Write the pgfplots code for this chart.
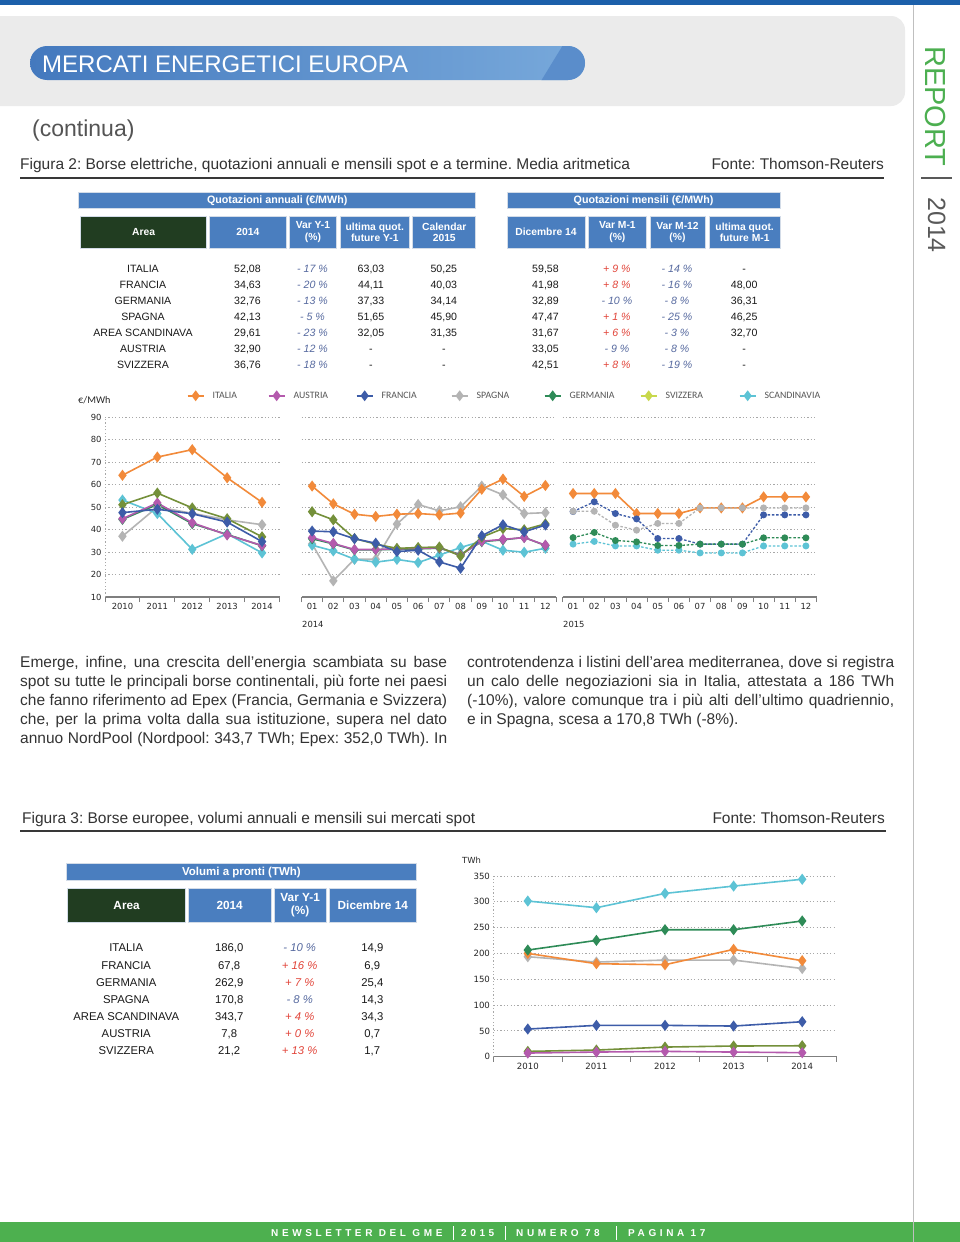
\documentclass[border=0pt]{standalone}
\usepackage{fontspec}
\usepackage{pgfplots}
\pgfplotsset{compat=1.18}
\setmainfont{Liberation Sans}
\newfontfamily\nar{Liberation Sans}
\newfontfamily\chf{DejaVu Sans}
\newfontfamily\calfont{Carlito}
\frenchspacing

\definecolor{cIta}{HTML}{F28A3A}
\definecolor{cAus}{HTML}{B45AAD}
\definecolor{cFra}{HTML}{3D5CA8}
\definecolor{cSpa}{HTML}{B4B4B4}
\definecolor{cGer}{HTML}{2E8B57}
\definecolor{cSvi}{HTML}{74903A}
\definecolor{cSviL}{HTML}{C8D84C}
\definecolor{cSca}{HTML}{5DC3D5}
\definecolor{gridc}{HTML}{A8A8A8}
\definecolor{axc}{HTML}{7F7F7F}
\definecolor{tickc}{HTML}{262626}
\definecolor{legc}{HTML}{555555}
\definecolor{hdrBlue}{HTML}{4A7EBF}
\definecolor{hdrGreen}{HTML}{213D21}
\definecolor{hdrLine}{HTML}{D3DCE8}
\definecolor{negC}{HTML}{56699F}
\definecolor{posC}{HTML}{E2453A}
\definecolor{footGreen}{HTML}{4DB04F}
\definecolor{repGreen}{HTML}{4CAF50}
\definecolor{topBlue}{HTML}{1C60AA}
\definecolor{boxGray}{HTML}{EBEBEB}
\definecolor{pillL}{HTML}{4479BE}
\definecolor{pillR}{HTML}{78A9DB}
\definecolor{pillD}{HTML}{5A8DCB}
\definecolor{txt}{HTML}{333333}

\pgfplotsset{
  base/.style={
    scale only axis, height=180pt, ymin=10, ymax=90,
    ytick={10,20,...,90},
    ymajorgrids,
    grid style={gridc, line width=0.8pt, dash pattern=on 1.2pt off 2.2pt},
    axis x line*=bottom, axis y line*=left,
    x axis line style={-, draw=axc, line width=1.1pt},
    major tick length=0pt,
    minor tick length=5pt, tick align=outside,
    minor x tick style={draw=axc, line width=1pt},
    ytick style={draw=none},
    xticklabel style={font=\chf\fontsize{8.4}{10}\selectfont, text=tickc, yshift=-3pt},
    yticklabel style={font=\chf\fontsize{8.4}{10}\selectfont, text=tickc},
    /pgf/number format/assume math mode=true,
    clip=false,
  },
  ser/.style={color=#1, line width=1.6pt, mark=diamond*, mark size=4.3pt, mark options={solid, fill=#1, draw=#1}, forget plot},
  ser2/.style={color=#1, line width=1.3pt, dash pattern=on 2.5pt off 1.8pt, mark=*, mark size=2.8pt, mark options={solid, fill=#1, draw=#1}, forget plot},
}

\newcommand\ta[3]{\node[anchor=base, inner sep=0pt, text=black!90, font=\fontsize{10.6}{12}\selectfont] at (#1pt,-#2pt) {#3};}
\newcommand\tb[3]{\node[anchor=base, inner sep=0pt, text=black!90, font=\fontsize{11.3}{13}\selectfont] at (#1pt,-#2pt) {#3};}
\newcommand\nv[1]{\textcolor{negC}{\itshape #1}}
\newcommand\pv[1]{\textcolor{posC}{\itshape #1}}
\newcommand\rowL[6]{\ta{143}{#1}{#2}\ta{247.5}{#1}{#3}\ta{312.5}{#1}{#4}\ta{371}{#1}{#5}\ta{443.8}{#1}{#6}}
\newcommand\rowR[5]{\ta{545.5}{#1}{#2}\ta{616.9}{#1}{#3}\ta{677}{#1}{#4}\ta{744.2}{#1}{#5}}
\newcommand\rowB[5]{\tb{126.2}{#1}{#2}\tb{229.2}{#1}{#3}\tb{299.7}{#1}{#4}\tb{372.3}{#1}{#5}}
\newcommand\hc[7]{\node[fill=#5, draw=hdrLine, line width=0.9pt, minimum width=#3pt, minimum height=#4pt, anchor=north west, inner sep=0pt, align=center, text=white, font=\bfseries\fontsize{#6}{#6}\selectfont] at (#1pt,-#2pt) {#7};}
\newcommand\jl[1]{\makebox[427pt][s]{#1}\\}

\begin{document}
\begin{tikzpicture}
\useasboundingbox (0pt,0pt) rectangle (960pt,-1242pt);
\clip (0pt,0pt) rectangle (960pt,-1242pt);
\fill[white] (0pt,0pt) rectangle (960pt,-1242pt);

% ---------- page header ----------
\fill[boxGray, rounded corners=14pt] (-30pt,-16pt) rectangle (905pt,-106pt);
\fill[topBlue] (0pt,0pt) rectangle (960pt,-5pt);
\shade[left color=pillL, right color=pillR, rounded corners=17pt] (30pt,-46pt) rectangle (585pt,-80pt);
\begin{scope}
\clip[rounded corners=17pt] (30pt,-46pt) rectangle (585pt,-80pt);
\fill[pillD] (541pt,-81pt) -- (563pt,-45pt) -- (590pt,-45pt) -- (590pt,-81pt) -- cycle;
\end{scope}
\node[anchor=base west, inner sep=0pt, text=white, font=\fontsize{24}{24}\selectfont] at (42pt,-72pt) {MERCATI ENERGETICI EUROPA};
\node[anchor=base west, inner sep=0pt, text=black!67, font=\fontsize{23}{23}\selectfont] at (32pt,-136pt) {(continua)};

% ---------- sidebar ----------
\draw[black!25, line width=0.8pt] (913pt,-5pt) -- (913pt,-1242pt);
\node[rotate=-90, anchor=base west, inner sep=0pt, text=repGreen, font=\fontsize{29}{29}\selectfont] at (925pt,-46pt) {REPORT};
\draw[line width=2pt, black!65] (921pt,-178pt) -- (952pt,-178pt);
\node[rotate=-90, anchor=base west, inner sep=0pt, text=black!65, font=\fontsize{25}{25}\selectfont] at (928pt,-197pt) {2014};

% ---------- Figure 2 caption ----------
\node[anchor=base west, inner sep=0pt, text=txt, font=\nar\fontsize{15.5}{18}\selectfont] at (20pt,-169pt) {Figura 2: Borse elettriche, quotazioni annuali e mensili spot e a termine. Media aritmetica};
\node[anchor=base east, inner sep=0pt, text=txt, font=\nar\fontsize{15.5}{18}\selectfont] at (884pt,-169pt) {Fonte: Thomson-Reuters};
\draw[line width=2pt, black!78] (20pt,-178pt) -- (884pt,-178pt);

% ---------- Table 1 ----------
\hc{78.3}{192.3}{396.9}{16}{hdrBlue}{10.7}{Quotazioni annuali (€/MWh)}
\hc{506.5}{192.3}{273.2}{16}{hdrBlue}{10.7}{Quotazioni mensili (€/MWh)}
\hc{80.2}{215.7}{125.9}{32}{hdrGreen}{10.3}{Area}
\hc{209.4}{215.7}{76.1}{32}{hdrBlue}{10.3}{2014}
\hc{288.7}{215.7}{47.6}{32}{hdrBlue}{10.3}{Var Y-1\\[1pt](\%)}
\hc{339.5}{215.7}{69.7}{32}{hdrBlue}{10.3}{ultima quot.\\[1pt]future Y-1}
\hc{412.4}{215.7}{62.8}{32}{hdrBlue}{10.3}{Calendar\\[1pt]2015}
\hc{506.5}{215.7}{78}{32}{hdrBlue}{10.3}{Dicembre 14}
\hc{587.8}{215.7}{58.2}{32}{hdrBlue}{10.3}{Var M-1\\[1pt](\%)}
\hc{649.6}{215.7}{54.9}{32}{hdrBlue}{10.3}{Var M-12\\[1pt](\%)}
\hc{708.7}{215.7}{71}{32}{hdrBlue}{10.3}{ultima quot.\\[1pt]future M-1}

\rowL{272}{ITALIA}{52,08}{\nv{- 17 \%}}{63,03}{50,25}
\rowL{288}{FRANCIA}{34,63}{\nv{- 20 \%}}{44,11}{40,03}
\rowL{304}{GERMANIA}{32,76}{\nv{- 13 \%}}{37,33}{34,14}
\rowL{320}{SPAGNA}{42,13}{\nv{- 5 \%}}{51,65}{45,90}
\rowL{336}{AREA SCANDINAVA}{29,61}{\nv{- 23 \%}}{32,05}{31,35}
\rowL{352}{AUSTRIA}{32,90}{\nv{- 12 \%}}{-}{-}
\rowL{368}{SVIZZERA}{36,76}{\nv{- 18 \%}}{-}{-}
\rowR{272}{59,58}{\pv{+ 9 \%}}{\nv{- 14 \%}}{-}
\rowR{288}{41,98}{\pv{+ 8 \%}}{\nv{- 16 \%}}{48,00}
\rowR{304}{32,89}{\nv{- 10 \%}}{\nv{- 8 \%}}{36,31}
\rowR{320}{47,47}{\pv{+ 1 \%}}{\nv{- 25 \%}}{46,25}
\rowR{336}{31,67}{\pv{+ 6 \%}}{\nv{- 3 \%}}{32,70}
\rowR{352}{33,05}{\nv{- 9 \%}}{\nv{- 8 \%}}{-}
\rowR{368}{42,51}{\pv{+ 8 \%}}{\nv{- 19 \%}}{-}

% ---------- Chart 1 ----------
\node[anchor=base west, inner sep=0pt, text=tickc, font=\calfont\fontsize{10.2}{11}\selectfont] at (78pt,-403pt) {€/MWh};

\begin{axis}[base, at={(105pt,-597pt)}, anchor=south west, width=174.5pt,
  xmin=-0.5, xmax=4.5, xtick={0,...,4}, xticklabels={2010,2011,2012,2013,2014},
  minor xtick={-0.5,0.5,...,4.5},
  y axis line style={-, draw=gridc, line width=0.8pt, dash pattern=on 1.2pt off 2.2pt},
  legend columns=7,
  legend style={at={(0.468,1.118)}, anchor=west, draw=none, fill=none, inner sep=0pt, outer sep=0pt,
    nodes={inner sep=0pt, outer sep=0pt, font=\calfont\fontsize{9.8}{11}\selectfont, text=legc},
    /tikz/every even column/.style={column sep=0pt}, /tikz/every odd column/.style={column sep=0pt}},
  legend image code/.code={\draw[mark repeat=2,mark phase=2,#1] plot coordinates {(0pt,0pt) (8pt,0pt) (16pt,0pt)};},
]
\addplot[ser=cSpa] coordinates {(0,37.0) (1,50.0) (2,47.2) (3,44.3) (4,42.13)};
\addplot[ser=cSca] coordinates {(0,53.1) (1,47.1) (2,31.2) (3,38.1) (4,29.61)};
\addplot[ser=cGer] coordinates {(0,44.5) (1,51.1) (2,42.6) (3,37.8) (4,32.76)};
\addplot[ser=cAus] coordinates {(0,44.8) (1,51.8) (2,43.0) (3,37.6) (4,32.90)};
\addplot[ser=cSvi] coordinates {(0,51.0) (1,56.2) (2,49.6) (3,44.8) (4,36.76)};
\addplot[ser=cFra] coordinates {(0,47.5) (1,49.0) (2,47.0) (3,43.3) (4,34.63)};
\addplot[ser=cIta] coordinates {(0,64.1) (1,72.2) (2,75.5) (3,63.0) (4,52.08)};
\addlegendimage{color=cIta, line width=2pt, mark=diamond*, mark size=3.8pt, mark options={fill=cIta}}
\addlegendentry{\makebox[63pt][l]{\hspace{8pt}ITALIA}}
\addlegendimage{color=cAus, line width=2pt, mark=diamond*, mark size=3.8pt, mark options={fill=cAus}}
\addlegendentry{\makebox[70pt][l]{\hspace{8pt}AUSTRIA}}
\addlegendimage{color=cFra, line width=2pt, mark=diamond*, mark size=3.8pt, mark options={fill=cFra}}
\addlegendentry{\makebox[77pt][l]{\hspace{8pt}FRANCIA}}
\addlegendimage{color=cSpa, line width=2pt, mark=diamond*, mark size=3.8pt, mark options={fill=cSpa}}
\addlegendentry{\makebox[75pt][l]{\hspace{8pt}SPAGNA}}
\addlegendimage{color=cGer, line width=2pt, mark=diamond*, mark size=3.8pt, mark options={fill=cGer}}
\addlegendentry{\makebox[78pt][l]{\hspace{8pt}GERMANIA}}
\addlegendimage{color=cSviL, line width=2pt, mark=diamond*, mark size=3.8pt, mark options={fill=cSviL}}
\addlegendentry{\makebox[81pt][l]{\hspace{8pt}SVIZZERA}}
\addlegendimage{color=cSca, line width=2pt, mark=diamond*, mark size=3.8pt, mark options={fill=cSca}}
\addlegendentry{\makebox[62pt][l]{\hspace{8pt}SCANDINAVIA}}
\end{axis}

\begin{axis}[base, at={(301.5pt,-597pt)}, anchor=south west, width=254.5pt,
  xmin=-0.5, xmax=11.5, xtick={0,...,11}, xticklabels={01,02,03,04,05,06,07,08,09,10,11,12},
  minor xtick={-0.5,0.5,...,11.5},
  y axis line style={draw=none}, yticklabels={}]
\addplot[ser=cSpa] coordinates {(0,33.6) (1,17.2) (2,26.8) (3,26.8) (4,42.4) (5,51.1) (6,48.3) (7,50.1) (8,59.3) (9,55.4) (10,47.1) (11,47.47)};
\addplot[ser=cSca] coordinates {(0,33.0) (1,30.5) (2,26.8) (3,25.5) (4,26.7) (5,25.3) (6,28.6) (7,32.0) (8,34.8) (9,30.8) (10,29.9) (11,31.67)};
\addplot[ser=cGer] coordinates {(0,35.9) (1,33.6) (2,30.9) (3,31.0) (4,31.2) (5,31.4) (6,31.7) (7,28.9) (8,34.6) (9,35.4) (10,36.5) (11,32.89)};
\addplot[ser=cAus] coordinates {(0,36.4) (1,33.8) (2,31.1) (3,31.1) (4,31.4) (5,31.6) (6,31.9) (7,28.6) (8,34.8) (9,35.6) (10,36.4) (11,33.05)};
\addplot[ser=cSvi] coordinates {(0,47.9) (1,44.3) (2,36.0) (3,33.5) (4,31.6) (5,32.0) (6,32.2) (7,28.2) (8,36.6) (9,40.4) (10,39.9) (11,42.51)};
\addplot[ser=cFra] coordinates {(0,39.3) (1,39.0) (2,35.9) (3,33.9) (4,30.2) (5,30.8) (6,25.6) (7,22.8) (8,37.2) (9,42.1) (10,39.0) (11,41.98)};
\addplot[ser=cIta] coordinates {(0,59.3) (1,51.4) (2,46.8) (3,45.8) (4,46.8) (5,47.1) (6,46.5) (7,47.3) (8,57.9) (9,62.4) (10,54.7) (11,59.58)};
\end{axis}

\begin{axis}[base, at={(562.5pt,-597pt)}, anchor=south west, width=254pt,
  xmin=-0.5, xmax=11.5, xtick={0,...,11}, xticklabels={01,02,03,04,05,06,07,08,09,10,11,12},
  minor xtick={-0.5,0.5,...,11.5},
  y axis line style={draw=none}, yticklabels={}]
\addplot[ser=cIta] coordinates {(0,56.0) (1,56.0) (2,56.0) (3,47.1) (4,47.1) (5,47.1) (6,49.6) (7,49.6) (8,49.6) (9,54.5) (10,54.5) (11,54.5)};
\addplot[ser2=cFra] coordinates {(0,48.0) (1,52.3) (2,47.1) (3,44.7) (4,36.0) (5,36.0) (6,33.5) (7,33.5) (8,33.5) (9,46.5) (10,46.5) (11,46.5)};
\addplot[ser2=cSpa] coordinates {(0,48.1) (1,48.1) (2,41.9) (3,39.7) (4,42.7) (5,42.7) (6,49.6) (7,49.6) (8,49.6) (9,49.6) (10,49.6) (11,49.6)};
\addplot[ser2=cSca] coordinates {(0,33.5) (1,34.7) (2,32.7) (3,32.7) (4,30.8) (5,30.8) (6,29.6) (7,29.6) (8,29.6) (9,32.7) (10,32.7) (11,32.7)};
\addplot[ser2=cGer] coordinates {(0,36.4) (1,38.7) (2,35.1) (3,34.5) (4,32.9) (5,32.9) (6,33.5) (7,33.5) (8,33.5) (9,36.3) (10,36.3) (11,36.3)};
\end{axis}
\node[anchor=west, inner sep=0pt, text=tickc, font=\chf\fontsize{8.4}{10}\selectfont] at (302pt,-624pt) {2014};
\node[anchor=west, inner sep=0pt, text=tickc, font=\chf\fontsize{8.4}{10}\selectfont] at (563pt,-624pt) {2015};

% ---------- paragraphs ----------
\node[anchor=base west, inner sep=0pt, text=txt] at (20pt,-667pt) {\parbox[t]{427pt}{\nar\fontsize{15.5}{19}\selectfont%
\jl{Emerge, infine, una crescita dell’energia scambiata su base}%
\jl{spot su tutte le principali borse continentali, più forte nei paesi}%
\jl{che fanno riferimento ad Epex (Francia, Germania e Svizzera)}%
\jl{che, per la prima volta dalla sua istituzione, supera nel dato}%
\makebox[427pt][s]{annuo NordPool (Nordpool: 343,7 TWh; Epex: 352,0 TWh). In}}};
\node[anchor=base west, inner sep=0pt, text=txt] at (467pt,-667pt) {\parbox[t]{427pt}{\nar\fontsize{15.5}{19}\selectfont%
\jl{controtendenza i listini dell’area mediterranea, dove si registra}%
\jl{un calo delle negoziazioni sia in Italia, attestata a 186 TWh}%
\jl{(-10\%), valore comunque tra i più alti dell’ultimo quadriennio,}%
e in Spagna, scesa a 170,8 TWh (-8\%).}};

% ---------- Figure 3 caption ----------
\node[anchor=base west, inner sep=0pt, text=txt, font=\nar\fontsize{15.5}{18}\selectfont] at (22pt,-823pt) {Figura 3: Borse europee, volumi annuali e mensili sui mercati spot};
\node[anchor=base east, inner sep=0pt, text=txt, font=\nar\fontsize{15.5}{18}\selectfont] at (885pt,-823pt) {Fonte: Thomson-Reuters};
\draw[line width=2pt, black!78] (20pt,-831pt) -- (886pt,-831pt);

% ---------- Table 2 ----------
\hc{66}{863.3}{350}{16.7}{hdrBlue}{11.5}{Volumi a pronti (TWh)}
\hc{67.3}{887.7}{117.7}{34.6}{hdrGreen}{11.8}{Area}
\hc{187.7}{887.7}{83}{34.6}{hdrBlue}{11.8}{2014}
\hc{273.7}{887.7}{52}{34.6}{hdrBlue}{11.8}{Var Y-1\\[1pt](\%)}
\hc{328.7}{887.7}{87.3}{34.6}{hdrBlue}{11.8}{Dicembre 14}
\rowB{951.7}{ITALIA}{186,0}{\nv{- 10 \%}}{14,9}
\rowB{969}{FRANCIA}{67,8}{\pv{+ 16 \%}}{6,9}
\rowB{986}{GERMANIA}{262,9}{\pv{+ 7 \%}}{25,4}
\rowB{1003.3}{SPAGNA}{170,8}{\nv{- 8 \%}}{14,3}
\rowB{1020.3}{AREA SCANDINAVA}{343,7}{\pv{+ 4 \%}}{34,3}
\rowB{1037.7}{AUSTRIA}{7,8}{\pv{+ 0 \%}}{0,7}
\rowB{1054.7}{SVIZZERA}{21,2}{\pv{+ 13 \%}}{1,7}

% ---------- Chart 2 ----------
\node[anchor=west, inner sep=0pt, text=tickc, font=\chf\fontsize{8.4}{10}\selectfont] at (462pt,-860pt) {TWh};
\begin{axis}[base, at={(493.5pt,-1056.7pt)}, anchor=south west, width=343pt, height=180.7pt,
  ymin=0, ymax=350, ytick={0,50,...,350},
  xmin=-0.5, xmax=4.5, xtick={0,...,4}, xticklabels={2010,2011,2012,2013,2014},
  minor xtick={-0.5,0.5,...,4.5},
  y axis line style={-, draw=gridc, line width=0.8pt, dash pattern=on 1.2pt off 2.2pt},
  xticklabel style={font=\chf\fontsize{8.6}{10}\selectfont},
  yticklabel style={font=\chf\fontsize{8.6}{10}\selectfont}]
\addplot[ser=cSpa] coordinates {(0,193.7) (1,183.3) (2,187.2) (3,187.2) (4,170.8)};
\addplot[ser=cIta] coordinates {(0,200.1) (1,180.1) (2,178.2) (3,207.9) (4,186.0)};
\addplot[ser=cSca] coordinates {(0,301.5) (1,288.6) (2,316.3) (3,330.5) (4,343.7)};
\addplot[ser=cGer] coordinates {(0,206.6) (1,225.3) (2,246.0) (3,246.0) (4,262.9)};
\addplot[ser=cFra] coordinates {(0,53.6) (1,60.7) (2,60.7) (3,59.4) (4,67.8)};
\addplot[ser=cSvi] coordinates {(0,10.3) (1,12.9) (2,18.7) (3,20.7) (4,21.2)};
\addplot[ser=cAus] coordinates {(0,7.1) (1,9.0) (2,10.3) (3,9.0) (4,7.8)};
\end{axis}

% ---------- footer ----------
\fill[footGreen] (0pt,-1222pt) rectangle (960pt,-1242pt);
\begin{scope}[every node/.style={anchor=base west, inner sep=0pt, text=white, font=\bfseries\fontsize{10}{10}\selectfont\addfontfeature{LetterSpace=36}}]
\node at (271pt,-1236pt) {NEWSLETTER DEL GME};
\node at (461pt,-1236pt) {2015};
\node at (516pt,-1236pt) {NUMERO 78};
\node at (628pt,-1236pt) {PAGINA 17};
\end{scope}
\draw[white, line width=0.8pt] (453pt,-1226pt) -- (453pt,-1240pt) (505pt,-1226pt) -- (505pt,-1240pt) (616pt,-1226pt) -- (616pt,-1240pt);
\draw[black!25, line width=0.8pt] (913pt,-1222pt) -- (913pt,-1242pt);
\end{tikzpicture}
\end{document}
